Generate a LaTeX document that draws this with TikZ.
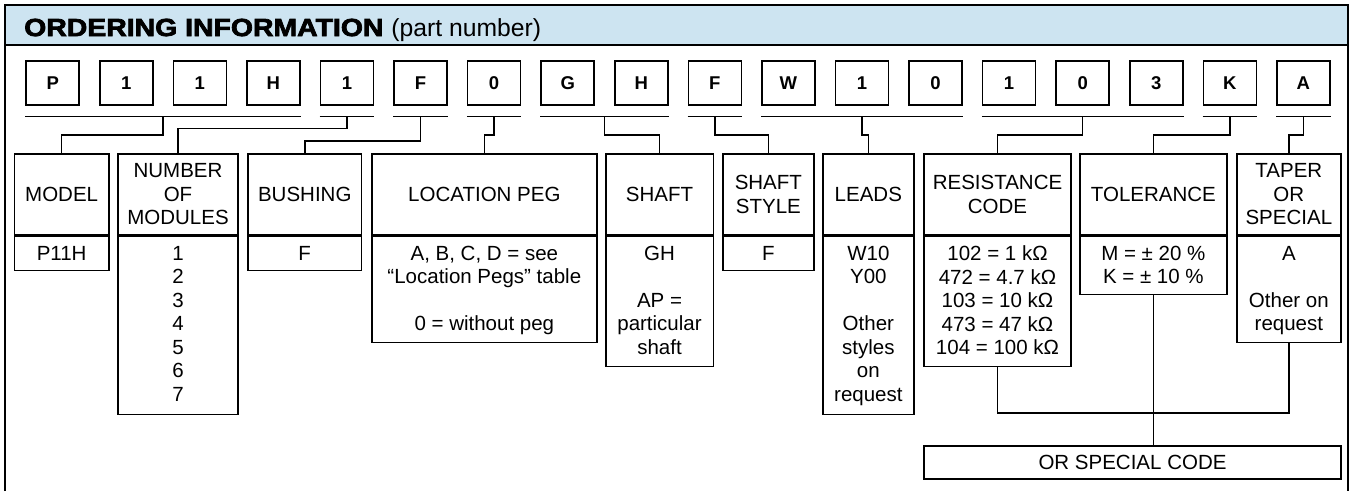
\documentclass[tikz,border=0pt]{standalone}
\usepackage{fontspec}
\setmainfont{Liberation Sans}
\newfontfamily\headfont{Liberation Sans}[FakeStretch=1.15,BoldFeatures={FakeBold=3}]
\definecolor{bandblue}{RGB}{205,228,241}

\begin{document}
\begin{tikzpicture}[x=1pt,y=-1pt]
    \tikzstyle{digit}=[draw,line width=1.6pt,minimum width=53pt,minimum height=44pt,inner sep=0pt,font=\fontsize{18.5}{20}\selectfont\bfseries]
    \tikzstyle{head}=[draw,line width=1.6pt,minimum height=81pt,inner sep=0pt,align=center,font=\fontsize{20.5}{23.5}\selectfont]
    \tikzstyle{valbox}=[draw,line width=1.6pt,anchor=north,inner sep=0pt]
    \tikzstyle{valtext}=[anchor=north,inner sep=0pt,align=center,font=\fontsize{20.5}{23.5}\selectfont]
    \tikzstyle{wire}=[line width=1.6pt]
    \useasboundingbox (0,0) rectangle (1351,491);
    \fill[bandblue] (5,5) rectangle (1348,45);
    \draw[line width=2pt] (5,491) -- (5,5) -- (1348,5) -- (1348,491);
    \draw[line width=2pt] (5,45) -- (1348,45);
    \node[anchor=base west,inner sep=0pt] (title) at (24,36) {{\fontsize{24.7}{28}\selectfont\headfont\bfseries ORDERING INFORMATION}\hspace{8pt}{\fontsize{24.7}{28}\selectfont(part number)}};
    \foreach \c [count=\i] in {P,1,1,H,1,F,0,G,H,F,W,1,0,1,0,3,K,A}
      \node[digit] (d\i) at ({52.7+73.57*(\i-1)},82.8) {\c};
    \node[head,minimum width=94.7pt] (model) at (61.65,194.5) {MODEL};
    \node[valbox,minimum width=94.7pt,minimum height=34pt] (modelv) at (model.south) {};
    \node[valtext] (modelt) at ([yshift=-10pt]modelv.north) {P11H};
    \node[head,minimum width=120pt] (modules) at (178,194.5) {NUMBER\\OF\\MODULES};
    \node[valbox,minimum width=120pt,minimum height=178pt] (modulesv) at (modules.south) {};
    \node[valtext] (modulest) at ([yshift=-10pt]modulesv.north) {1\\2\\3\\4\\5\\6\\7};
    \node[head,minimum width=113.5pt] (bushing) at (304.75,194.5) {BUSHING};
    \node[valbox,minimum width=113.5pt,minimum height=34pt] (bushingv) at (bushing.south) {};
    \node[valtext] (bushingt) at ([yshift=-10pt]bushingv.north) {F};
    \node[head,minimum width=224.7pt] (peg) at (484.35,194.5) {LOCATION PEG};
    \node[valbox,minimum width=224.7pt,minimum height=105.7pt] (pegv) at (peg.south) {};
    \node[valtext] (pegt) at ([yshift=-10pt]pegv.north) {A, B, C, D = see\\“Location Pegs” table\\[23.5pt]0 = without peg};
    \node[head,minimum width=107.6pt] (shaft) at (659.5,194.5) {SHAFT};
    \node[valbox,minimum width=107.6pt,minimum height=130pt] (shaftv) at (shaft.south) {};
    \node[valtext] (shaftt) at ([yshift=-10pt]shaftv.north) {GH\\[23.5pt]AP =\\particular\\shaft};
    \node[head,minimum width=91.3pt] (style) at (768.35,194.5) {SHAFT\\STYLE};
    \node[valbox,minimum width=91.3pt,minimum height=34pt] (stylev) at (style.south) {};
    \node[valtext] (stylet) at ([yshift=-10pt]stylev.north) {F};
    \node[head,minimum width=91.3pt] (leads) at (868.35,194.5) {LEADS};
    \node[valbox,minimum width=91.3pt,minimum height=178pt] (leadsv) at (leads.south) {};
    \node[valtext] (leadst) at ([yshift=-10pt]leadsv.north) {W10\\Y00\\[23.5pt]Other\\styles\\on\\request};
    \node[head,minimum width=147pt] (rescode) at (997.5,194.5) {RESISTANCE\\CODE};
    \node[valbox,minimum width=147pt,minimum height=130pt] (rescodev) at (rescode.south) {};
    \node[valtext] (rescodet) at ([yshift=-10pt]rescodev.north) {102 = 1 kΩ\\472 = 4.7 kΩ\\103 = 10 kΩ\\473 = 47 kΩ\\104 = 100 kΩ};
    \node[head,minimum width=146.7pt] (tol) at (1153.35,194.5) {TOLERANCE};
    \node[valbox,minimum width=146.7pt,minimum height=57.7pt] (tolv) at (tol.south) {};
    \node[valtext] (tolt) at ([yshift=-10pt]tolv.north) {M = ± 20 \%\\K = ± 10 \%};
    \node[head,minimum width=104.3pt] (taper) at (1288.85,194.5) {TAPER\\OR\\SPECIAL};
    \node[valbox,minimum width=104.3pt,minimum height=105.7pt] (taperv) at (taper.south) {};
    \node[valtext] (tapert) at ([yshift=-10pt]taperv.north) {A\\[23.5pt]Other on\\request};
    \node[draw,line width=1.6pt,minimum width=417pt,minimum height=33pt,inner sep=0pt,font=\fontsize{20.5}{23.5}\selectfont] (special) at (1132.5,462.5) {OR SPECIAL CODE};
    \foreach \a/\b/\t/\j in {1/4/model/135,5/5/modules/128.3,6/6/bushing/140.7,7/7/peg/135,8/9/shaft/135,10/10/style/135,11/13/leads/135,14/16/rescode/135,17/17/tol/135,18/18/taper/135}{
      \draw[wire] ([yshift=-11pt]d\a.south west) -- ([yshift=-11pt]d\b.south east) coordinate[midway] (u\t);
      \draw[wire] (u\t) -- (u\t |- 0,\j) -| (\t.north);
    }
    \draw[wire] (rescodev.south) -- (rescodev.south |- 0,412.7) -| (taperv.south);
    \draw[wire] (tolv.south) -- (tolv.south |- special.north);
  \end{tikzpicture}
\end{document}
